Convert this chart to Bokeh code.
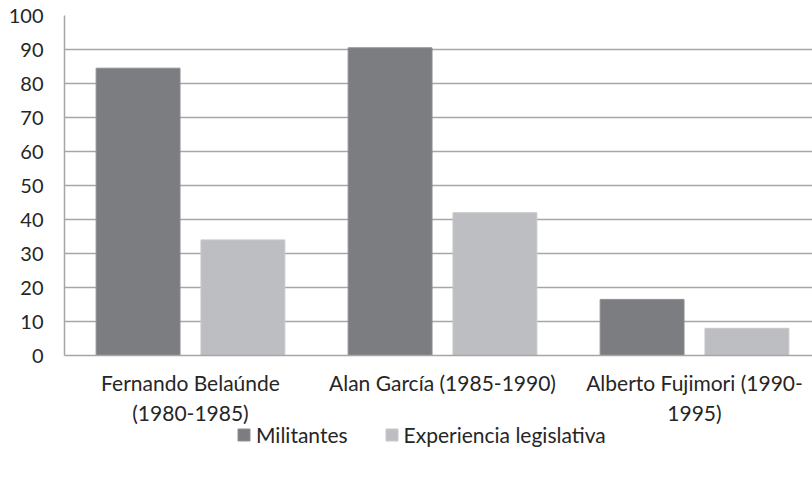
from bokeh.plotting import figure
from bokeh.layouts import column
from bokeh.models import Range1d, FixedTicker, Legend, LegendItem, ColumnDataSource
from bokeh.transform import dodge
from bokeh.embed import file_html
from bokeh.resources import INLINE

categories = ["Fernando Belaúnde\n(1980-1985)", "Alan García (1985-1990)", "Alberto Fujimori (1990-\n1995)"]
series_names = ["Militantes", "Experiencia legislativa"]
militantes = [84.5, 90.5, 16.5]
experiencia = [34, 42, 8]
y_ticks = [0, 10, 20, 30, 40, 50, 60, 70, 80, 90, 100]

xpos = [i + 0.5 for i in range(len(categories))]
src = ColumnDataSource(dict(x=xpos, mil=militantes, exp=experiencia))

FONT = "Lato"
TXT = "#262626"
GRID = "#a6a6a6"
C_MIL, L_MIL = "#7c7d81", "#8e8f93"
C_EXP, L_EXP = "#bdbec2", "#c8c9cc"

p = figure(width=812, height=427, output_backend="svg", toolbar_location=None,
           x_range=Range1d(0, 748 / 252), y_range=Range1d(0, 100),
           min_border_left=64, min_border_right=0, min_border_top=15, min_border_bottom=71)
p.outline_line_color = None
p.background_fill_color = "white"

p.vbar(x=dodge("x", -0.208, range=p.x_range), top="mil", width=0.333, source=src,
       fill_color=C_MIL, line_color=L_MIL, line_width=1)
p.vbar(x=dodge("x", 0.208, range=p.x_range), top="exp", width=0.333, source=src,
       fill_color=C_EXP, line_color=L_EXP, line_width=1)

p.xaxis.ticker = FixedTicker(ticks=xpos)
p.xaxis.major_label_overrides = {x: c for x, c in zip(xpos, categories)}
p.xaxis.major_tick_line_color = None
p.xaxis.minor_tick_line_color = None
p.xaxis.major_tick_out = 0
p.xaxis.major_tick_in = 0
p.xaxis.axis_line_color = GRID
p.xaxis.axis_line_width = 1.5
p.xaxis.major_label_text_font = FONT
p.xaxis.major_label_text_font_size = "21px"
p.xaxis.major_label_text_color = TXT
p.xaxis.major_label_standoff = 14
p.xgrid.grid_line_color = None

p.yaxis.ticker = FixedTicker(ticks=y_ticks)
p.yaxis.major_tick_line_color = None
p.yaxis.minor_tick_line_color = None
p.yaxis.axis_line_color = GRID
p.yaxis.axis_line_width = 1.5
p.yaxis.major_label_text_font = FONT
p.yaxis.major_label_text_font_size = "20px"
p.yaxis.major_label_text_color = TXT
p.yaxis.major_label_standoff = 15
p.ygrid.grid_line_color = GRID
p.ygrid.grid_line_width = 1.5

# legend strip
lf = figure(width=812, height=44, output_backend="svg", toolbar_location=None,
            x_range=Range1d(0, 1), y_range=Range1d(0, 1),
            x_axis_location=None, y_axis_location=None,
            min_border_left=0, min_border_right=0, min_border_top=0, min_border_bottom=0)
lf.outline_line_color = None
lf.xgrid.grid_line_color = None
lf.ygrid.grid_line_color = None
dummy = ColumnDataSource(dict(x=[-10], top=[0]))
d1 = lf.vbar(x="x", top="top", width=0.1, source=dummy, fill_color=C_MIL, line_color=L_MIL)
d2 = lf.vbar(x="x", top="top", width=0.1, source=dummy, fill_color=C_EXP, line_color=L_EXP)

legend = Legend(items=[LegendItem(label=series_names[0], renderers=[d1]),
                       LegendItem(label=series_names[1], renderers=[d2])],
                orientation="horizontal", location=(172, 24),
                label_text_font=FONT, label_text_font_size="21px", label_text_color=TXT,
                glyph_width=15, glyph_height=15, spacing=36, label_standoff=5,
                border_line_color=None, background_fill_alpha=0, margin=0, padding=0)
lf.add_layout(legend, "center")

layout = column(p, lf, spacing=0)
open("out.html", "w").write(file_html(layout, INLINE))
